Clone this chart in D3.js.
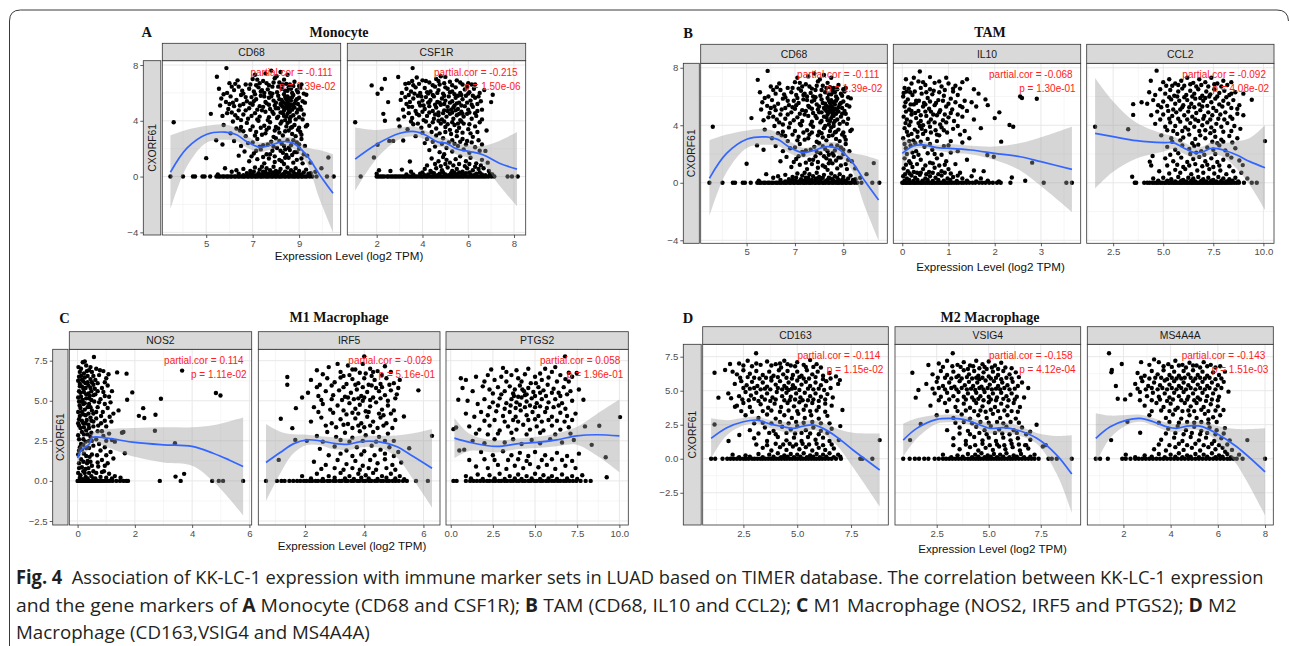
<!DOCTYPE html>
<html><head><meta charset="utf-8">
<script src="https://cdn.jsdelivr.net/npm/d3@7"></script>
<style>body{margin:0;background:#fff}svg{display:block}</style>
</head><body>
<svg id="fig" width="1290" height="646"></svg>
<script>
// ---------------- DATA ----------------
const cd68Pts = [
[5.87,7.78],[5.46,7.16],[7.1,7.3],[7.55,7.4],[8.03,7.19],[8.2,7.5],[7.8,7.6],[8.5,7.3],
[6.35,6.9],[6.7,6.6],[7.0,7.0],[7.3,6.7],[7.45,6.85],[7.7,6.55],[7.95,7.05],[8.15,6.75],[8.35,6.95],[8.6,6.6],[8.8,6.8],[9.0,6.5],[6.0,6.7],[7.2,6.95],[8.45,6.65],
[5.55,6.3],[5.9,6.0],[6.2,6.2],[6.4,6.45],[6.6,5.95],[6.85,6.3],[7.05,6.1],[7.25,6.4],[7.5,6.0],[7.65,6.25],[7.85,6.45],[8.05,6.05],[8.25,6.3],[8.4,6.15],[8.55,6.4],[8.7,6.0],[8.9,6.2],[9.05,6.35],[9.2,5.95],[9.31,5.87],[6.1,6.45],[7.4,6.2],[8.65,6.3],
[5.65,5.6],[5.85,5.35],[6.05,5.75],[6.3,5.5],[6.5,5.85],[6.75,5.4],[6.95,5.7],[7.15,5.55],[7.35,5.8],[7.55,5.35],[7.7,5.65],[7.9,5.45],[8.1,5.8],[8.25,5.5],[8.4,5.7],[8.5,5.35],[8.6,5.6],[8.75,5.85],[8.85,5.45],[9.0,5.65],[9.15,5.4],[6.15,5.3],[7.05,5.4],[7.8,5.75],[8.3,5.35],[8.45,5.55],
[5.6,5.1],[5.95,4.85],[6.2,5.05],[6.4,4.75],[6.6,5.2],[6.85,4.9],[7.0,5.15],[7.2,4.8],[7.45,5.0],[7.6,5.25],[7.75,4.85],[7.95,5.1],[8.1,4.9],[8.2,5.2],[8.35,4.75],[8.45,5.05],[8.55,4.85],[8.65,5.15],[8.8,4.95],[8.95,5.2],[9.1,4.8],[8.3,5.0],[8.5,4.95],[8.7,4.8],[8.4,5.25],[8.6,5.0],
[5.2,4.5],[5.7,4.35],[6.1,4.6],[6.35,4.2],[6.6,4.45],[6.8,4.15],[7.1,4.55],[7.3,4.3],[7.55,4.65],[7.7,4.25],[7.9,4.5],[8.05,4.2],[8.2,4.6],[8.35,4.35],[8.5,4.5],[8.6,4.15],[8.75,4.4],[8.9,4.6],[9.0,4.25],[9.2,4.45],[8.45,4.3],[8.55,4.65],
[3.6,3.9],[5.75,3.7],[6.15,3.95],[6.5,3.55],[6.75,3.85],[7.0,3.6],[7.25,4.0],[7.5,3.65],[7.75,3.9],[8.0,3.55],[8.2,3.8],[8.45,3.6],[8.6,3.95],[8.8,3.7],[9.0,3.5],[9.29,3.6],[9.35,3.7],
[6.05,3.1],[6.45,3.3],[6.7,2.9],[7.15,3.2],[7.4,3.0],[7.6,3.35],[7.9,2.85],[8.15,3.15],[8.3,2.95],[8.55,3.3],[8.7,3.05],[8.85,2.9],[9.05,3.2],
[5.43,2.6],[5.7,2.3],[6.2,2.55],[6.8,2.4],[7.2,2.7],[7.45,2.25],[7.8,2.5],[8.0,2.75],[8.25,2.35],[8.5,2.6],[8.65,2.25],[8.9,2.45],[9.1,2.7],
[6.65,1.8],[7.05,1.65],[7.35,1.95],[7.6,1.6],[7.85,1.85],[8.05,2.05],[8.3,1.7],[8.45,1.55],[8.6,1.9],[8.8,1.75],[9.0,2.0],[9.2,1.6],[8.4,1.95],
[5.0,1.32],[6.85,1.1],[7.2,1.25],[7.5,0.95],[7.7,1.3],[7.95,1.05],[8.15,1.2],[8.35,0.9],[8.55,1.35],[8.75,1.0],[8.9,1.2],[9.15,0.95],[9.49,1.0],[10.26,1.37],[8.25,1.1],
[5.81,0.6],[6.3,0.45],[6.6,0.55],[6.9,0.4],[7.1,0.65],[7.3,0.5],[7.45,0.35],[7.6,0.6],[7.75,0.45],[7.9,0.7],[8.0,0.4],[8.2,0.55],[8.4,0.35],[8.5,0.65],[8.65,0.45],[8.85,0.6],[9.0,0.4],[9.3,0.5],[9.96,0.6],[9.7,0.35],[7.4,0.7],[8.1,0.3],
[5.5,0.15],[6.4,0.2],[7.0,0.15],[7.25,0.25],[7.5,0.2],[7.65,0.15],[7.85,0.25],[8.05,0.2],[8.3,0.15],[8.55,0.25],[8.8,0.2],[9.1,0.15],[9.4,0.2],[7.15,0.1],[7.95,0.1]
];
const cd68More = [
[6.25,6.65],[6.55,6.15],[6.9,6.6],[7.15,6.55],[7.35,6.1],[7.6,6.7],[7.75,6.0],[7.9,6.75],[8.1,6.45],[8.3,6.6],[8.5,6.15],[8.75,6.5],[8.95,6.05],[9.1,6.6],
[5.75,5.9],[6.0,5.2],[6.45,5.1],[6.7,5.7],[6.9,5.25],[7.1,5.9],[7.3,5.05],[7.5,5.75],[7.7,5.15],[7.85,5.95],[8.0,5.3],[8.15,5.55],[8.35,5.9],[8.5,5.75],[8.55,5.2],[8.65,5.45],[8.7,5.7],[8.8,5.25],[8.9,5.55],[9.05,5.0],[9.25,5.3],[8.25,5.1],[8.4,4.9],[8.6,4.65],[8.75,5.05],
[5.9,4.55],[6.25,4.4],[6.5,4.05],[6.7,4.75],[6.95,4.35],[7.2,4.1],[7.4,4.75],[7.65,4.05],[7.85,4.65],[8.0,4.9],[8.1,4.3],[8.3,4.55],[8.4,4.05],[8.65,4.3],[8.85,4.1],[8.95,4.8],[9.15,4.1],[8.25,3.95],[8.5,3.85],[8.7,3.55],
[6.3,3.45],[6.6,3.25],[6.9,3.35],[7.1,2.95],[7.35,3.5],[7.55,3.1],[7.7,3.5],[7.95,3.3],[8.1,3.45],[8.4,3.25],[8.65,3.5],[8.95,3.35],[9.1,3.0],
[6.5,2.2],[7.0,2.45],[7.3,2.15],[7.65,2.3],[7.9,2.15],[8.15,2.55],[8.35,2.2],[8.55,2.05],[8.75,2.6],[9.0,2.3],[9.25,2.2],
[6.4,1.5],[6.95,1.45],[7.15,1.85],[7.45,1.4],[7.75,1.6],[7.95,1.45],[8.2,1.85],[8.4,1.35],[8.7,1.55],[8.9,1.75],[9.1,1.3],[9.35,1.5],
[6.1,0.35],[6.75,0.25],[7.05,0.35],[7.35,0.15],[7.55,0.35],[7.7,0.2],[7.9,0.3],[8.15,0.35],[8.35,0.2],[8.45,0.3],[8.6,0.15],[8.75,0.35],[8.95,0.2],[9.2,0.3],[9.5,0.25],[6.6,0.1],[6.9,0.15],[7.45,0.1],[8.25,0.1],[8.7,0.05]
];
const cd68Zero = [3.46,4.0,4.43,4.52,4.84,4.93,5.17,5.44,5.53,5.6,5.71,5.77,5.88,5.94,6.04,6.1,6.21,6.27,6.37,6.43,6.53,6.6,6.67,6.77,6.83,6.93,6.99,7.09,7.15,7.23,7.33,7.39,7.47,7.57,7.63,7.71,7.81,7.87,7.97,8.03,8.13,8.19,8.27,8.37,8.43,8.53,8.59,8.69,8.77,8.83,8.93,8.99,9.09,9.15,9.25,9.33,9.46,9.57,9.75,10.2,10.49];
const cd68Smooth = [[3.46,0.31,2.64],[4.17,2.04,1.31],[5.03,3.04,0.6],[5.81,3.19,0.55],[6.31,3.0,0.45],[6.74,2.51,0.42],[7.31,2.1,0.35],[7.74,2.23,0.3],[8.31,2.51,0.3],[8.74,2.4,0.38],[9.31,1.56,0.55],[9.89,0.12,1.78],[10.46,-1.2,2.8]];

const csf1rPts = [
[1.06,3.9],[1.78,6.54],[2.04,5.94],[2.22,6.3],[2.36,7.0],[1.88,1.37],[2.04,2.28],[2.29,4.5],[2.36,4.0],[2.5,5.34],[2.55,2.56],[2.72,2.56],[2.94,7.14],[3.16,2.59],[3.57,7.78],[3.45,1.08],[7.07,5.87],[7.0,5.34],[6.75,1.84],[6.67,0.6],
[3.4,6.7],[3.75,7.1],[4.0,6.9],[4.3,6.75],[4.6,7.0],[4.8,7.2],[5.0,7.15],[5.2,6.8],[5.5,6.9],[5.75,6.6],[6.0,6.7],[6.3,6.6],[3.6,6.55],[4.75,6.6],
[3.1,6.0],[3.3,6.3],[3.5,6.1],[3.7,6.4],[3.9,6.0],[4.1,6.35],[4.35,6.1],[4.55,6.45],[4.7,6.2],[4.9,5.95],[5.1,6.3],[5.3,6.1],[5.45,6.4],[5.65,6.0],[5.85,6.25],[6.05,6.05],[6.25,6.3],[6.5,6.0],[6.7,6.2],[4.2,6.05],[5.0,6.4],
[3.05,5.5],[3.25,5.7],[3.45,5.35],[3.6,5.6],[3.8,5.8],[4.0,5.45],[4.15,5.7],[4.35,5.5],[4.5,5.75],[4.65,5.35],[4.85,5.6],[5.0,5.45],[5.15,5.75],[5.3,5.4],[5.45,5.65],[5.6,5.3],[5.75,5.55],[5.9,5.8],[6.1,5.45],[6.3,5.65],[6.55,5.4],[4.25,5.3],[5.55,5.8],
[3.15,4.8],[3.4,5.0],[3.7,4.7],[3.9,5.1],[4.1,4.85],[4.3,5.05],[4.45,4.7],[4.6,4.95],[4.8,5.15],[4.95,4.75],[5.1,5.0],[5.25,4.8],[5.4,5.1],[5.55,4.85],[5.7,4.65],[5.85,5.05],[6.0,4.8],[6.2,5.0],[6.4,4.7],[4.7,4.6],
[2.95,4.1],[3.2,4.3],[3.55,4.2],[3.85,4.4],[4.05,4.05],[4.2,4.35],[4.5,4.15],[4.7,4.4],[4.85,4.1],[5.05,4.3],[5.2,4.5],[5.35,4.15],[5.5,4.4],[5.65,4.05],[5.8,4.3],[5.95,4.5],[6.15,4.15],[6.35,4.35],[6.6,4.1],[5.6,4.5],
[3.0,3.6],[3.35,3.4],[3.6,3.75],[3.95,3.5],[4.3,3.65],[4.6,3.45],[4.8,3.8],[5.0,3.55],[5.2,3.35],[5.4,3.7],[5.6,3.5],[5.8,3.8],[6.0,3.4],[6.3,3.6],[6.8,3.3],[5.1,3.75],
[3.7,2.9],[4.2,2.7],[4.6,2.95],[4.9,2.75],[5.3,2.6],[5.5,2.9],[5.75,2.7],[5.95,2.55],[6.2,2.85],[6.45,2.6],
[4.3,1.9],[4.55,2.15],[4.75,1.75],[5.05,2.05],[5.3,1.8],[5.55,2.2],[5.8,1.95],[6.05,1.7],[6.3,2.1],[6.5,1.85],[4.95,1.6],
[4.4,1.3],[4.7,1.1],[4.9,1.4],[5.2,1.0],[5.45,1.25],[5.65,1.45],[5.9,1.1],[6.1,1.35],[6.35,0.95],[6.6,1.2],[6.85,1.0],[5.0,0.9],
[2.1,0.45],[2.6,0.4],[3.1,0.5],[3.5,0.35],[4.1,0.55],[4.35,0.4],[4.6,0.6],[4.85,0.45],[5.1,0.65],[5.3,0.4],[5.5,0.55],[5.75,0.35],[5.95,0.6],[6.2,0.45],[6.45,0.55],[6.9,0.4],[4.0,0.3],[5.4,0.3],
[2.0,0.2],[3.3,0.15],[3.9,0.2],[4.25,0.15],[4.5,0.25],[4.75,0.2],[5.0,0.15],[5.25,0.25],[5.5,0.15],[5.7,0.2],[5.9,0.25],[6.1,0.15],[6.35,0.2],[6.6,0.15],[6.95,0.2]
];
const csf1rMore = [
[3.25,6.65],[3.55,6.85],[3.85,6.65],[4.15,6.85],[4.45,6.55],[4.7,6.85],[4.95,6.7],[5.3,6.55],[5.65,6.75],[5.95,6.45],[6.15,6.6],
[3.4,5.85],[3.65,5.95],[3.95,5.75],[4.25,5.95],[4.45,5.85],[4.65,6.0],[4.95,5.8],[5.2,6.05],[5.4,5.9],[5.7,5.85],[6.0,5.95],[6.2,5.8],[6.45,5.75],
[3.3,5.2],[3.55,5.0],[3.85,5.3],[4.05,5.1],[4.3,5.35],[4.55,5.15],[4.75,5.3],[4.95,5.2],[5.2,5.3],[5.35,4.95],[5.5,5.25],[5.7,5.1],[5.95,5.3],[6.15,5.15],[6.4,5.2],[6.6,4.8],
[3.4,4.55],[3.75,4.5],[4.0,4.65],[4.3,4.6],[4.55,4.45],[4.9,4.55],[5.1,4.7],[5.3,4.6],[5.45,4.75],[5.75,4.5],[6.05,4.6],[6.3,4.55],
[3.5,3.95],[3.8,3.8],[4.15,3.95],[4.45,3.9],[4.7,4.0],[4.95,3.95],[5.3,3.9],[5.55,3.8],[5.7,3.95],[6.05,3.75],[6.5,3.9],
[4.0,3.15],[4.4,3.2],[4.75,3.1],[5.0,3.2],[5.25,3.05],[5.5,3.25],[5.75,3.15],[6.1,3.1],[6.4,3.2],
[4.1,2.4],[4.45,2.5],[4.85,2.35],[5.15,2.45],[5.4,2.35],[5.65,2.5],[5.9,2.3],[6.15,2.45],[6.6,2.3],
[4.2,0.8],[4.55,0.9],[4.8,0.75],[5.05,1.2],[5.35,0.8],[5.6,0.9],[5.85,0.75],[6.05,0.9],[6.3,0.7],[6.55,0.8],
[3.6,0.15],[4.1,0.1],[4.4,0.3],[4.65,0.1],[4.9,0.3],[5.15,0.1],[5.35,0.15],[5.6,0.3],[5.8,0.1],[6.05,0.3],[6.25,0.1],[6.5,0.3],[6.75,0.1],[7.05,0.15]
];
const csf1rZero = [1.3,2.0,2.08,2.17,2.25,2.33,2.45,2.52,2.62,2.7,2.79,2.86,2.95,3.03,3.12,3.2,3.27,3.36,3.44,3.52,3.6,3.68,3.76,3.85,3.93,4.0,4.08,4.16,4.23,4.32,4.4,4.47,4.55,4.63,4.71,4.8,4.87,4.95,5.03,5.11,5.19,5.27,5.34,5.42,5.5,5.58,5.66,5.74,5.81,5.9,5.98,6.06,6.14,6.22,6.3,6.38,6.46,6.54,6.63,6.71,6.8,6.9,7.02,7.14,7.72,7.91,8.16];
const csf1rSmooth = [[1.06,1.25,2.27],[2.0,2.32,1.02],[3.01,3.11,0.42],[3.67,3.23,0.35],[4.17,2.95,0.33],[4.68,2.47,0.33],[5.04,2.4,0.35],[5.48,1.99,0.4],[6.06,1.8,0.45],[6.64,1.56,0.65],[7.36,0.96,1.6],[8.13,0.53,2.66]];

const il10Pts = [
[0.38,7.74],[0.35,7.05],[0.09,6.35],[0.05,6.6],[0.2,6.9],[0.5,6.8],[0.7,6.95],[0.85,6.7],[1.0,6.9],[1.15,6.75],[1.3,7.0],[1.4,7.2],[0.6,6.5],
[0.02,6.0],[0.12,5.8],[0.22,6.1],[0.3,5.7],[0.42,6.2],[0.55,5.9],[0.65,6.15],[0.78,5.75],[0.9,6.05],[1.05,5.85],[1.2,6.1],[1.35,5.7],[1.5,5.6],[0.17,6.3],[0.47,5.55],
[0.05,5.3],[0.15,5.1],[0.25,5.45],[0.35,5.0],[0.45,5.3],[0.58,5.15],[0.7,5.4],[0.82,5.05],[0.95,5.3],[1.08,5.1],[1.25,5.35],[1.6,5.3],[1.85,5.4],[0.3,5.55],[0.62,4.95],[1.4,5.0],
[0.03,4.6],[0.1,4.4],[0.2,4.75],[0.3,4.5],[0.4,4.3],[0.52,4.65],[0.62,4.4],[0.75,4.7],[0.88,4.35],[1.0,4.55],[1.12,4.3],[1.3,4.6],[1.55,4.4],[2.0,4.5],[2.1,4.9],[0.7,4.2],
[0.05,3.8],[0.15,4.0],[0.27,3.7],[0.38,3.95],[0.5,3.6],[0.6,3.9],[0.72,3.65],[0.85,3.85],[0.97,3.5],[1.1,3.75],[1.35,3.6],[1.7,3.8],[2.32,4.02],[2.4,3.9],[0.45,3.4],
[0.02,3.1],[0.13,3.3],[0.24,2.95],[0.33,3.2],[0.55,3.05],[0.8,3.3],[1.05,2.9],[1.45,3.1],[2.14,2.86],
[0.08,2.4],[0.18,2.6],[0.3,2.2],[0.48,2.5],[0.65,2.3],[0.9,2.55],[1.2,2.2],[1.84,1.93],[1.98,1.81],
[0.05,1.7],[0.15,1.5],[0.25,1.8],[0.4,1.6],[0.6,1.4],[0.75,1.7],[0.95,1.5],[1.15,1.3],[1.4,1.6],[2.81,1.4],
[0.03,1.0],[0.12,0.8],[0.22,1.1],[0.32,0.7],[0.45,0.95],[0.58,0.75],[0.7,1.05],[0.85,0.8],[1.0,0.95],[1.25,0.7],[1.55,0.85],[1.76,0.81],
[0.02,0.45],[0.1,0.3],[0.2,0.5],[0.28,0.35],[0.38,0.55],[0.5,0.3],[0.6,0.45],[0.72,0.35],[0.85,0.5],[0.98,0.3],[1.1,0.4],[1.3,0.3],[1.5,0.45],[1.7,0.3],[2.37,0.37],[2.66,0.14],[2.09,0.1],
[2.55,6.0],[2.59,5.9],[2.91,5.84],[1.65,6.2],[1.8,5.8],[1.55,6.5]
];
const il10More = [
[0.08,7.2],[0.25,7.3],[0.45,7.0],[0.6,7.35],[0.8,7.05],[0.95,7.3],[1.1,6.55],
[0.03,6.25],[0.14,6.55],[0.27,6.35],[0.4,6.6],[0.52,6.3],[0.68,6.4],[0.8,6.3],[0.92,6.45],[1.1,6.35],[1.25,6.55],
[0.07,5.6],[0.18,5.45],[0.36,5.7],[0.5,5.45],[0.6,5.65],[0.73,5.55],[0.88,5.7],[1.0,5.5],[1.15,5.6],[1.3,5.25],
[0.08,4.95],[0.2,5.0],[0.28,4.85],[0.4,4.7],[0.5,4.95],[0.67,4.75],[0.8,4.9],[0.92,4.75],[1.05,4.85],[1.2,4.75],
[0.07,4.15],[0.18,4.25],[0.35,4.15],[0.45,4.0],[0.57,4.2],[0.82,4.05],[0.95,4.2],[1.2,3.95],
[0.1,3.55],[0.2,3.4],[0.33,3.55],[0.42,3.75],[0.62,3.5],[0.75,3.35],[0.9,3.65],[1.25,3.35],
[0.05,2.7],[0.15,2.9],[0.28,2.75],[0.4,2.85],[0.6,2.7],[0.75,2.9],[1.0,2.6],[1.3,2.8],
[0.1,2.0],[0.22,2.1],[0.35,1.95],[0.55,2.05],[0.7,2.0],[0.85,1.95],[1.05,2.1],
[0.08,1.25],[0.18,1.35],[0.32,1.3],[0.5,1.2],[0.66,1.35],[0.8,1.2],[0.92,1.25],
[0.06,0.6],[0.16,0.65],[0.25,0.75],[0.4,0.7],[0.52,0.6],[0.66,0.7],[0.78,0.6],[0.92,0.7],[1.05,0.65],[1.2,0.5],
[0.05,0.15],[0.15,0.2],[0.24,0.12],[0.33,0.2],[0.44,0.15],[0.55,0.2],[0.66,0.12],[0.78,0.2],[0.9,0.15],[1.04,0.2],[1.18,0.12],[1.4,0.15],[1.6,0.1],[1.85,0.15]
];
const il10Zero = [0.0,0.03,0.07,0.1,0.14,0.17,0.21,0.25,0.28,0.32,0.36,0.4,0.43,0.47,0.51,0.55,0.59,0.63,0.66,0.7,0.74,0.78,0.82,0.86,0.9,0.94,0.98,1.02,1.07,1.12,1.17,1.22,1.28,1.33,1.39,1.45,1.52,1.58,1.66,1.73,1.8,1.88,1.96,2.05,2.13,2.34,3.06,3.55,3.67];
const il10Smooth = [[0,2.05,1.04],[0.24,2.56,0.3],[0.46,2.63,0.22],[0.75,2.44,0.2],[1.0,2.4,0.3],[1.48,2.28,0.3],[2.0,2.05,0.47],[2.55,1.81,0.95],[3.0,1.47,1.7],[3.67,0.93,2.97]];

const ccl2Pts = [
[1.6,3.9],[3.25,3.72],[3.45,0.42],[3.5,5.47],[3.5,4.72],[3.92,5.6],[4.33,1.47],[4.47,1.86],[4.4,1.2],[4.67,7.8],[4.38,7.1],[10.08,2.9],[9.42,5.77],[8.97,1.23],
[5.0,7.0],[5.3,7.2],[5.6,6.9],[5.9,7.1],[6.2,7.3],[6.5,6.95],[6.8,7.2],[7.1,7.0],[7.4,7.3],[7.7,6.9],[8.0,7.1],[8.4,7.0],[5.45,6.75],[6.65,6.7],
[4.3,6.3],[4.6,6.1],[4.85,6.5],[5.1,6.2],[5.35,6.45],[5.55,6.05],[5.75,6.35],[5.95,6.55],[6.15,6.1],[6.35,6.4],[6.55,6.2],[6.75,6.5],[6.95,6.05],[7.15,6.35],[7.35,6.15],[7.55,6.5],[7.8,6.25],[8.05,6.4],[8.3,6.1],[8.6,6.3],[9.0,6.2],
[4.2,5.5],[4.5,5.75],[4.75,5.4],[5.0,5.65],[5.2,5.35],[5.4,5.8],[5.6,5.5],[5.8,5.7],[6.0,5.4],[6.2,5.75],[6.4,5.5],[6.6,5.85],[6.8,5.45],[7.0,5.7],[7.2,5.35],[7.4,5.6],[7.6,5.85],[7.8,5.45],[8.0,5.7],[8.25,5.5],[8.5,5.75],[8.8,5.4],[6.3,5.25],[7.1,5.9],
[4.4,4.7],[4.7,4.95],[5.0,4.75],[5.25,5.0],[5.45,4.65],[5.65,4.9],[5.85,5.1],[6.05,4.7],[6.25,4.95],[6.45,4.6],[6.65,4.85],[6.85,5.05],[7.05,4.65],[7.25,4.9],[7.45,4.7],[7.65,5.0],[7.85,4.75],[8.1,4.9],[8.35,4.6],[8.7,4.8],[9.0,4.7],
[4.6,4.1],[5.1,3.9],[5.35,4.2],[5.6,3.95],[5.85,4.25],[6.1,3.85],[6.35,4.15],[6.55,3.9],[6.75,4.3],[6.95,4.0],[7.2,4.2],[7.4,3.85],[7.65,4.1],[7.9,3.9],[8.2,4.15],[8.55,3.95],[8.85,3.75],
[4.9,3.3],[5.4,3.1],[5.7,3.4],[6.0,3.15],[6.3,3.35],[6.6,3.05],[6.85,3.3],[7.1,3.1],[7.35,3.45],[7.6,3.2],[7.9,3.0],[8.3,3.25],[8.7,3.1],
[5.2,2.5],[5.6,2.3],[5.95,2.6],[6.3,2.35],[6.55,2.55],[6.9,2.2],[7.2,2.45],[7.5,2.3],[7.8,2.6],[8.1,2.25],[8.6,2.4],
[5.1,1.7],[5.5,1.5],[5.9,1.75],[6.2,1.45],[6.5,1.65],[6.8,1.8],[7.1,1.5],[7.4,1.7],[7.7,1.45],[8.0,1.6],[8.4,1.75],[8.8,1.55],
[4.8,0.8],[5.3,0.65],[5.6,0.9],[5.85,0.7],[6.1,0.95],[6.4,0.6],[6.7,0.85],[7.0,0.7],[7.3,0.95],[7.55,0.65],[7.85,0.85],[8.15,0.6],[8.5,0.8],[8.9,0.7],
[4.5,0.3],[5.0,0.35],[5.4,0.25],[5.75,0.4],[6.0,0.2],[6.25,0.35],[6.5,0.3],[6.75,0.4],[7.0,0.25],[7.25,0.35],[7.5,0.2],[7.75,0.4],[8.0,0.3],[8.3,0.25],[8.6,0.35],[9.2,0.3]
];
const ccl2More = [
[5.15,6.75],[5.75,6.8],[6.05,6.75],[6.35,6.85],[6.9,6.8],[7.25,6.7],[7.55,6.85],[7.9,6.7],[8.2,6.8],
[5.3,5.95],[5.7,6.0],[6.05,5.95],[6.45,6.0],[6.85,5.9],[7.3,6.0],[7.7,6.0],[8.15,5.95],[8.4,6.2],
[4.9,5.25],[5.5,5.1],[5.95,5.25],[6.55,5.25],[6.95,5.3],[7.5,5.2],[7.95,5.3],[8.4,5.2],[8.7,5.15],
[4.85,4.4],[5.3,4.45],[5.75,4.45],[6.2,4.4],[6.6,4.4],[7.0,4.45],[7.35,4.4],[7.75,4.45],[8.05,4.4],[8.45,4.45],
[5.2,3.65],[5.5,3.6],[5.95,3.6],[6.25,3.7],[6.8,3.6],[7.1,3.65],[7.55,3.6],[8.0,3.55],[8.4,3.6],
[5.45,2.85],[5.85,2.95],[6.45,2.75],[6.75,2.65],[7.45,2.85],[7.7,2.75],[8.0,2.85],[8.45,2.8],
[5.35,1.95],[5.75,2.05],[6.35,2.0],[6.65,2.1],[7.05,1.95],[7.6,2.0],[8.2,1.95],
[5.2,1.2],[5.7,1.25],[6.0,1.1],[6.3,1.2],[6.6,1.3],[6.95,1.15],[7.2,1.25],[7.5,1.1],[7.8,1.2],[8.3,1.15],
[4.75,0.15],[5.2,0.15],[5.6,0.1],[5.9,0.15],[6.15,0.1],[6.4,0.15],[6.6,0.1],[6.9,0.15],[7.15,0.1],[7.4,0.15],[7.65,0.1],[7.9,0.15],[8.15,0.1],[8.45,0.15],[8.75,0.1]
];
const ccl2Zero = [3.58,3.65,4.05,4.2,4.32,4.45,4.55,4.66,4.75,4.86,4.95,5.06,5.14,5.25,5.33,5.43,5.52,5.61,5.7,5.79,5.88,5.96,6.05,6.14,6.22,6.31,6.4,6.48,6.57,6.66,6.74,6.83,6.92,7.0,7.09,7.18,7.26,7.35,7.44,7.52,7.61,7.7,7.78,7.87,7.96,8.05,8.14,8.23,8.33,8.43,8.54,8.66,8.78,9.03,9.42,9.67];
const ccl2Smooth = [[1.6,3.44,3.84],[2.5,3.21,2.45],[3.67,2.93,1.25],[5.03,2.79,0.62],[5.5,2.79,0.45],[6.0,2.44,0.4],[6.58,2.09,0.38],[7.0,2.16,0.38],[7.42,2.4,0.42],[8.0,2.28,0.48],[8.67,1.93,0.95],[9.33,1.47,1.65],[10.08,1.05,2.95]];

const nos2Pts = [
[0.57,7.73],[1.71,6.69],[1.38,6.77],[1.91,5.52],[1.73,5.06],[1.43,4.4],[1.55,3.0],[1.6,3.05],[1.65,1.73],[2.14,4.06],[2.29,4.54],[2.33,3.92],[2.72,4.13],[2.7,3.13],[2.91,5.13],[3.65,6.88],[3.4,2.35],[3.42,0.27],[3.72,0.44],[4.83,5.48],[4.99,5.33],[1.3,2.45],[1.2,2.55],
[0.18,7.4],[0.12,7.0],[0.3,7.2],[0.4,6.9],[0.22,6.7],[0.05,6.5],[0.35,6.55],[0.5,6.8],[0.15,6.3],[0.28,6.1],[0.45,6.35],[0.08,5.9],[0.2,5.75],[0.38,5.95],[0.55,6.0],[0.1,5.5],[0.3,5.4],[0.48,5.6],[0.02,5.2],[0.18,5.05],[0.4,5.15],[0.25,4.85],[0.58,4.95],[0.07,4.7],[0.35,4.6],[0.5,4.4],[0.15,4.3],[0.28,4.1],[0.45,3.95],[0.05,3.85],[0.2,3.6],[0.38,3.5],[0.55,3.7],[0.1,3.3],[0.3,3.15],[0.48,3.0],[0.02,2.85],[0.2,2.6],[0.4,2.5],[0.12,2.3],[0.3,2.05],[0.55,2.2],[0.05,1.9],[0.22,1.7],[0.42,1.5],[0.12,1.35],[0.33,1.1],[0.5,0.95],[0.05,0.8],[0.2,0.6],[0.4,0.5],[0.1,0.35],[0.28,0.25],[0.48,0.3],
[0.08,6.05],[0.25,6.45],[0.42,5.3],[0.12,4.95],[0.32,3.8],[0.05,3.45],[0.22,2.9],[0.45,2.75],[0.15,1.95],[0.35,1.25],[0.02,0.5],[0.28,0.75],
[0.65,7.0],[0.75,6.6],[0.9,6.85],[1.0,6.4],[1.08,6.65],[0.7,6.1],[0.85,5.8],[1.05,5.95],[1.2,5.6],[0.62,5.4],[0.8,5.1],[0.95,5.3],[1.15,4.9],[0.7,4.6],[0.88,4.3],[1.05,4.55],[1.25,4.2],[0.65,3.9],[0.82,3.6],[1.0,3.4],[1.18,3.7],[0.7,3.1],[0.9,2.8],[1.1,2.95],[0.75,2.3],[0.95,2.1],[1.15,1.8],[0.68,1.6],[0.85,1.3],[1.05,1.1],[1.25,1.4],[0.72,0.9],[0.92,0.6],[1.1,0.45],[0.8,0.25],[1.3,0.3],[1.5,0.2]
];
const nos2More = [
[0.03,7.1],[0.25,7.45],[0.45,7.1],[0.08,6.8],[0.32,6.85],[0.55,6.55],[0.12,6.55],[0.2,6.2],[0.35,6.15],[0.5,6.15],[0.02,6.25],[0.15,5.9],[0.28,5.8],[0.45,5.8],[0.6,5.75],[0.05,5.6],[0.22,5.55],[0.38,5.45],[0.55,5.35],[0.12,5.25],[0.3,5.15],[0.48,5.05],[0.05,4.95],[0.2,4.8],[0.4,4.8],[0.1,4.55],[0.25,4.45],[0.45,4.6],[0.02,4.3],[0.2,4.15],[0.38,4.2],[0.55,4.2],[0.08,4.05],[0.15,3.75],[0.28,3.6],[0.48,3.75],[0.02,3.6],[0.22,3.35],[0.4,3.3],[0.55,3.4],[0.15,3.05],[0.35,2.9],[0.05,2.6],[0.28,2.45],[0.5,2.5],[0.08,2.1],[0.2,2.25],[0.4,2.05],[0.02,1.65],[0.3,1.55],[0.5,1.65],[0.2,1.2],[0.45,1.2],[0.05,1.1],[0.15,0.85],[0.38,0.8],[0.55,0.6],[0.25,0.5],[0.08,0.2],[0.35,0.15],[0.55,0.15],[0.18,0.1],
[0.62,6.3],[0.78,6.9],[0.95,6.15],[0.7,5.6],[0.9,5.55],[1.1,5.25],[0.75,4.9],[0.95,4.8],[0.65,4.3],[0.82,4.05],[1.12,4.0],[0.72,3.45],[0.95,3.75],[0.85,3.1],[1.0,2.5],[0.65,2.6],[0.8,1.9],[1.0,1.6],[0.7,1.15],[0.95,0.95],[0.65,0.5],[0.85,0.55],[1.0,0.2],[0.62,0.15],[1.2,0.15]
];
const nos2Zero = [0,0.02,0.04,0.06,0.09,0.12,0.15,0.18,0.21,0.24,0.27,0.3,0.33,0.36,0.4,0.44,0.48,0.52,0.57,0.62,0.68,0.74,0.8,0.87,0.95,1.03,1.12,1.22,1.35,1.48,1.6,1.7,1.76,2.87,3.6,4.7,4.93,5.08,5.78];
const nos2Smooth = [[0,1.42,0.55],[0.14,1.94,0.35],[0.31,2.15,0.35],[0.41,2.31,0.3],[0.52,2.71,0.3],[1.01,2.67,0.55],[2.0,2.4,0.9],[3.0,2.25,1.1],[4.0,2.15,1.2],[4.73,1.73,1.75],[5.29,1.31,2.4],[5.78,0.9,3.05]];

const irf5Pts = [
[1.11,1.31],[1.4,6.48],[1.4,6.0],[1.18,3.88],[1.57,3.29],[1.69,4.54],[1.67,2.56],[1.9,5.2],[2.06,2.5],[5.83,5.65],[6.29,2.81],[5.52,2.04],[5.34,4.02],[4.0,7.77],
[2.4,6.9],[2.8,7.1],[3.2,6.8],[3.45,7.2],[3.7,6.95],[3.95,7.3],[4.2,7.0],[4.45,6.85],[4.7,7.15],[3.1,7.3],[4.05,6.7],
[2.2,6.3],[2.5,6.0],[2.75,6.4],[3.0,6.15],[3.2,6.45],[3.4,6.05],[3.6,6.35],[3.8,6.1],[4.0,6.4],[4.15,6.0],[4.35,6.3],[4.55,6.05],[4.75,6.4],[5.0,6.1],[5.2,6.3],[3.5,6.6],[4.25,6.55],
[2.1,5.5],[2.45,5.3],[2.7,5.6],[2.95,5.35],[3.15,5.65],[3.35,5.25],[3.55,5.5],[3.75,5.7],[3.9,5.3],[4.1,5.55],[4.3,5.2],[4.5,5.6],[4.7,5.35],[4.9,5.65],[5.1,5.4],[3.65,5.1],[4.4,5.8],
[2.3,4.6],[2.6,4.8],[2.85,4.45],[3.1,4.7],[3.3,4.4],[3.5,4.85],[3.7,4.5],[3.85,4.75],[4.05,4.35],[4.2,4.65],[4.4,4.9],[4.6,4.45],[4.8,4.7],[5.0,4.4],[3.95,5.0],
[2.2,3.7],[2.55,3.95],[2.9,3.6],[3.2,3.85],[3.45,3.55],[3.7,3.9],[3.9,3.6],[4.1,4.0],[4.3,3.7],[4.55,3.95],[4.75,3.6],[5.05,3.8],
[2.4,2.8],[2.75,3.05],[3.05,2.75],[3.35,3.0],[3.6,2.7],[3.85,3.1],[4.05,2.85],[4.3,3.05],[4.5,2.75],[4.8,2.95],
[2.5,2.0],[3.0,2.15],[3.4,1.9],[3.75,2.1],[4.0,1.85],[4.25,2.2],[4.55,1.95],[4.85,2.1],[5.15,1.8],
[2.3,1.2],[2.7,1.0],[3.1,1.3],[3.4,1.05],[3.7,1.25],[3.95,0.95],[4.2,1.3],[4.45,1.1],[4.7,1.35],[4.95,1.0],[5.25,1.15],
[1.9,0.3],[2.4,0.45],[2.8,0.3],[3.2,0.5],[3.5,0.3],[3.8,0.45],[4.05,0.35],[4.3,0.5],[4.6,0.3],[4.9,0.45],[5.2,0.3]
];
const irf5More = [
[2.6,6.65],[3.3,6.55],[3.6,6.95],[3.85,6.75],[4.3,6.8],[4.6,6.6],[4.9,6.8],
[2.4,5.85],[2.9,5.95],[3.3,5.85],[3.7,6.0],[3.95,5.85],[4.25,5.95],[4.6,5.85],[4.85,6.0],[5.15,5.8],
[2.55,5.05],[2.9,5.1],[3.25,5.05],[3.45,5.2],[3.8,5.15],[4.0,5.2],[4.2,5.05],[4.55,5.15],[4.8,5.0],[5.05,5.15],
[2.45,4.3],[2.95,4.25],[3.4,4.15],[3.6,4.25],[3.8,4.2],[4.15,4.3],[4.5,4.2],[4.65,4.1],[4.9,4.2],
[2.7,3.45],[3.05,3.35],[3.3,3.5],[3.6,3.3],[3.8,3.45],[4.0,3.35],[4.2,3.45],[4.45,3.3],[4.65,3.45],[4.95,3.3],
[2.6,2.45],[3.2,2.55],[3.5,2.45],[3.95,2.5],[4.4,2.45],[4.7,2.5],[5.0,2.5],
[2.8,1.6],[3.2,1.7],[3.6,1.55],[3.9,1.65],[4.35,1.6],[4.7,1.7],[5.0,1.55],
[2.55,0.75],[3.0,0.8],[3.3,0.7],[3.6,0.8],[3.85,0.7],[4.15,0.8],[4.4,0.7],[4.75,0.8],[5.05,0.7],
[2.2,0.15],[2.6,0.12],[3.0,0.2],[3.35,0.15],[3.65,0.12],[3.9,0.2],[4.15,0.15],[4.45,0.12],[4.75,0.2],[5.05,0.15],[5.35,0.1]
];
const irf5Zero = [0.68,1.05,1.2,1.31,1.47,1.6,1.73,1.84,1.96,2.05,2.16,2.24,2.36,2.44,2.56,2.64,2.76,2.84,2.96,3.04,3.16,3.24,3.36,3.44,3.56,3.64,3.76,3.84,3.96,4.04,4.16,4.24,4.36,4.44,4.56,4.64,4.76,4.84,4.96,5.06,5.17,5.31,5.44,5.75,6.15];
const irf5Smooth = [[0.68,1.15,2.4],[1.16,1.77,1.3],[1.6,2.31,0.6],[2.06,2.56,0.32],[2.51,2.5,0.28],[2.96,2.35,0.38],[3.49,2.29,0.36],[3.83,2.44,0.37],[4.51,2.44,0.37],[5.09,2.15,0.68],[5.66,1.52,1.45],[6.29,0.79,2.45]];

const ptgs2Pts = [
[0.16,3.23],[0.32,3.33],[0.45,5.06],[0.51,1.9],[0.8,1.95],[10.04,3.98],[9.25,0.23],[9.19,1.48],[8.36,2.25],[8.81,3.44],[7.96,3.4],[7.87,5.06],[7.47,6.73],[6.78,7.77],[5.75,6.0],
[0.6,6.4],[0.9,6.3],[1.5,6.5],[2.2,6.6],[2.6,6.3],[3.0,6.5],[3.6,6.6],[4.0,6.4],[4.4,6.65],[5.0,6.5],[5.3,6.7],[6.0,6.8],[6.5,6.6],[7.0,6.75],[7.2,6.5],[6.2,7.1],[3.3,6.8],
[0.7,5.8],[1.3,5.6],[1.9,5.9],[2.3,5.7],[2.8,5.85],[3.2,5.6],[3.5,5.9],[3.8,5.7],[4.1,5.95],[4.35,5.6],[4.6,5.8],[4.9,5.55],[5.2,5.85],[5.5,5.65],[6.1,5.75],[6.4,5.5],[6.7,5.85],[7.1,5.6],[7.6,5.7],[4.75,6.1],
[1.0,5.0],[1.6,4.8],[2.0,5.1],[2.5,4.9],[2.9,5.15],[3.3,4.85],[3.6,5.1],[3.9,4.9],[4.2,5.2],[4.5,4.95],[4.8,5.15],[5.1,4.85],[5.4,5.1],[5.8,4.9],[6.2,5.1],[6.6,4.85],[7.2,5.0],[3.75,5.3],[4.4,5.35],
[0.9,4.2],[1.4,4.0],[1.8,4.3],[2.2,4.1],[2.7,4.35],[3.1,4.05],[3.5,4.3],[3.85,4.0],[4.15,4.4],[4.5,4.1],[4.85,4.3],[5.2,4.05],[5.6,4.3],[6.0,4.0],[6.5,4.25],[6.9,4.05],[7.4,4.2],
[1.1,3.4],[1.7,3.2],[2.3,3.45],[2.9,3.15],[3.4,3.4],[3.9,3.2],[4.3,3.5],[4.7,3.2],[5.1,3.4],[5.5,3.15],[6.0,3.45],[6.5,3.2],[7.0,3.35],
[1.3,2.5],[2.0,2.35],[2.6,2.6],[3.2,2.4],[3.7,2.6],[4.2,2.3],[4.8,2.55],[5.3,2.35],[5.9,2.6],[6.6,2.4],[7.3,2.55],
[1.8,1.8],[2.5,1.6],[3.1,1.85],[3.6,1.6],[4.1,1.75],[4.6,1.55],[5.0,1.8],[5.6,1.6],[6.3,1.75],[6.9,1.55],[7.6,1.7],
[1.5,0.9],[2.2,0.8],[2.8,1.0],[3.3,0.75],[3.8,0.95],[4.3,0.8],[4.7,1.05],[5.2,0.85],[5.7,1.0],[6.2,0.75],[6.8,0.95],[7.4,0.8],
[0.9,0.3],[1.6,0.4],[2.3,0.35],[2.9,0.45],[3.5,0.3],[4.0,0.4],[4.5,0.3],[5.0,0.45],[5.5,0.35],[6.0,0.3],[6.6,0.4],[7.2,0.3],[7.8,0.35]
];
const ptgs2More = [
[2.4,6.95],[3.1,7.05],[3.9,6.9],[4.6,7.0],[5.6,7.0],[5.8,6.45],[6.8,6.35],[4.2,6.2],[3.3,6.2],[2.0,6.2],[5.05,6.1],[5.4,6.3],[6.3,6.2],[7.0,6.2],
[2.5,5.45],[3.0,5.4],[3.7,5.45],[4.0,5.25],[4.25,5.7],[4.5,5.4],[5.0,5.3],[5.3,5.5],[5.65,5.3],[6.0,5.5],[6.5,5.3],[6.9,5.4],
[2.3,4.6],[2.8,4.7],[3.2,4.5],[3.55,4.7],[3.85,4.55],[4.1,4.75],[4.4,4.6],[4.7,4.7],[5.0,4.6],[5.3,4.65],[5.7,4.55],[6.1,4.6],[6.4,4.7],[6.8,4.5],
[2.0,3.75],[2.6,3.8],[3.2,3.7],[3.7,3.8],[4.0,3.7],[4.6,3.8],[5.0,3.85],[5.4,3.7],[5.8,3.8],[6.3,3.75],[6.75,3.7],[7.2,3.8],
[1.5,2.95],[2.2,2.9],[2.8,2.95],[3.6,3.0],[4.5,2.9],[5.3,3.0],[6.2,2.9],[7.1,2.95],
[1.1,1.3],[2.0,1.35],[2.6,1.3],[3.4,1.3],[4.0,1.35],[4.5,1.25],[5.4,1.3],[6.0,1.35],[6.6,1.3],[7.2,1.25],
[1.2,0.15],[1.9,0.12],[2.6,0.15],[3.2,0.12],[3.8,0.15],[4.2,0.12],[4.8,0.15],[5.3,0.12],[5.8,0.15],[6.3,0.12],[6.9,0.15],[7.5,0.12]
];
const ptgs2Zero = [0.16,0.35,0.9,1.15,1.35,1.55,1.75,1.95,2.15,2.3,2.5,2.65,2.85,3.0,3.2,3.35,3.55,3.7,3.9,4.05,4.25,4.4,4.6,4.75,4.95,5.1,5.3,5.45,5.65,5.8,6.0,6.15,6.35,6.5,6.7,6.85,7.05,7.25,7.45,7.7,8.0,8.3];
const ptgs2Smooth = [[0.22,2.67,1.25],[1.15,2.4,0.52],[2.73,2.15,0.37],[3.91,2.31,0.33],[5.1,2.4,0.35],[6.28,2.56,0.4],[7.47,2.81,0.55],[8.66,2.88,1.3],[10.0,2.81,2.27]];

const cd163Pts = [
[1.16,6.32],[1.16,2.52],[1.34,4.49],[1.81,1.3],[1.88,6.96],[1.65,6.52],[1.93,4.44],[2.11,3.82],[2.31,1.74],[3.09,7.75],[8.83,1.37],[6.93,1.37],[7.1,3.58],[6.98,5.78],[6.9,5.5],
[2.3,7.0],[2.7,7.2],[3.3,6.9],[3.6,7.15],[4.0,6.95],[4.4,7.2],[4.7,6.85],[5.0,7.1],[5.3,6.9],[5.6,7.25],[5.9,6.95],[2.9,6.8],
[2.0,6.4],[2.2,6.2],[2.5,6.5],[2.8,6.25],[3.1,6.45],[3.4,6.15],[3.7,6.4],[3.9,6.1],[4.15,6.5],[4.35,6.2],[4.55,6.45],[4.8,6.15],[5.0,6.4],[5.2,6.1],[5.45,6.5],[5.7,6.2],[5.95,6.4],[6.2,6.1],[6.5,6.3],[6.8,6.05],[4.25,6.7],
[2.1,5.5],[2.4,5.7],[2.65,5.4],[2.9,5.65],[3.15,5.35],[3.4,5.6],[3.6,5.3],[3.8,5.75],[4.0,5.45],[4.2,5.7],[4.4,5.35],[4.6,5.6],[4.8,5.4],[5.0,5.75],[5.2,5.45],[5.4,5.65],[5.6,5.35],[5.85,5.6],[6.1,5.4],[6.35,5.7],[4.9,5.2],[5.3,5.9],
[1.8,4.8],[2.3,4.6],[2.6,4.9],[2.85,4.65],[3.1,4.85],[3.35,4.55],[3.6,4.8],[3.85,4.5],[4.05,4.9],[4.3,4.6],[4.5,4.85],[4.7,4.55],[4.95,4.8],[5.15,4.5],[5.35,4.85],[5.6,4.6],[5.85,4.8],[6.1,4.55],[6.4,4.75],[6.65,4.5],[4.6,5.05],
[2.2,3.9],[2.5,4.1],[2.8,3.8],[3.3,4.0],[3.65,3.75],[3.95,4.05],[4.25,3.8],[4.55,4.1],[4.85,3.85],[5.1,4.15],[5.4,3.9],[5.7,4.1],[6.0,3.8],[6.3,4.05],[6.6,3.9],
[2.6,3.2],[3.2,3.0],[3.6,3.25],[4.0,2.95],[4.4,3.2],[4.75,3.0],[5.05,3.3],[5.35,3.0],[5.65,3.2],[6.0,2.95],[6.4,3.15],
[2.8,2.1],[3.5,2.3],[3.9,2.05],[4.3,2.35],[4.7,2.15],[5.0,2.4],[5.4,2.1],[5.75,2.3],[6.1,2.05],[6.6,2.2],[7.0,2.4],
[3.0,1.5],[3.6,1.3],[4.1,1.6],[4.5,1.35],[4.85,1.55],[5.2,1.3],[5.5,1.6],[5.85,1.4],[6.2,1.55],[6.5,1.3],
[3.4,0.8],[3.8,0.6],[4.2,0.85],[4.5,0.65],[4.8,0.9],[5.1,0.7],[5.4,0.85],[5.7,0.6],[6.0,0.8],[6.3,0.65],[6.7,0.75],
[2.0,0.3],[2.6,0.25],[3.2,0.35],[3.7,0.3],[4.1,0.4],[4.4,0.25],[4.7,0.35],[5.0,0.3],[5.3,0.4],[5.6,0.25],[5.9,0.35],[6.2,0.3],[6.5,0.4],[6.9,0.3]
];
const cd163More = [
[2.5,6.85],[3.1,7.0],[3.8,6.85],[4.2,7.0],[4.55,6.95],[4.9,6.8],[5.4,6.75],[5.75,6.75],[6.1,6.7],
[2.35,5.95],[2.7,6.0],[3.0,5.95],[3.25,5.9],[3.55,5.95],[3.8,5.95],[4.1,6.0],[4.5,5.95],[4.75,5.9],[5.1,6.0],[5.55,5.9],[5.85,6.0],[6.2,5.85],[6.55,5.9],
[2.5,5.2],[2.8,5.15],[3.0,5.2],[3.3,5.1],[3.5,5.15],[3.75,5.1],[4.1,5.2],[4.3,5.1],[4.5,5.2],[4.75,5.15],[5.1,5.05],[5.5,5.15],[5.75,5.1],[6.0,5.15],[6.25,5.05],[6.55,5.2],
[2.45,4.35],[2.75,4.3],[3.0,4.4],[3.2,4.25],[3.5,4.35],[3.75,4.25],[4.0,4.35],[4.4,4.3],[4.65,4.3],[4.9,4.35],[5.25,4.3],[5.5,4.3],[5.75,4.35],[6.0,4.25],[6.3,4.35],
[2.4,3.5],[2.9,3.45],[3.4,3.5],[3.8,3.55],[4.2,3.45],[4.6,3.55],[5.0,3.5],[5.3,3.6],[5.6,3.5],[5.9,3.55],[6.3,3.45],
[3.0,2.6],[3.4,2.65],[3.8,2.6],[4.2,2.7],[4.6,2.6],[4.95,2.7],[5.3,2.65],[5.7,2.7],[6.1,2.6],[6.5,2.6],
[3.2,1.85],[3.7,1.9],[4.0,1.8],[4.5,1.9],[4.9,1.85],[5.2,1.9],[5.6,1.85],[6.0,1.8],[6.4,1.9],
[3.1,1.05],[3.6,1.0],[4.0,1.1],[4.35,1.05],[4.65,1.1],[4.95,1.05],[5.25,1.1],[5.55,1.05],[5.9,1.1],[6.2,1.0],[6.6,1.05],
[2.3,0.12],[2.8,0.15],[3.4,0.12],[3.9,0.15],[4.25,0.12],[4.55,0.15],[4.85,0.12],[5.15,0.15],[5.45,0.12],[5.75,0.15],[6.05,0.12],[6.35,0.15],[6.7,0.12],[7.0,0.15]
];
const cd163Zero = [1.0,1.19,1.53,1.75,1.9,2.05,2.2,2.35,2.5,2.62,2.75,2.9,3.02,3.15,3.28,3.4,3.52,3.65,3.78,3.9,4.02,4.15,4.27,4.4,4.52,4.65,4.77,4.9,5.02,5.15,5.27,5.4,5.52,5.65,5.78,5.9,6.03,6.16,6.3,6.45,6.6,6.8,7.03,7.93,8.03,8.49];
const cd163Smooth = [[1.0,1.5,1.47],[1.73,2.28,0.55],[2.5,2.72,0.28],[3.12,2.84,0.25],[3.73,2.55,0.3],[4.35,2.35,0.37],[4.81,2.23,0.35],[5.28,2.4,0.37],[5.74,2.48,0.35],[6.2,2.23,0.4],[6.82,1.62,0.6],[7.59,0.64,1.27],[8.83,-0.83,2.69]];

const vsig4Pts = [
[1.22,1.37],[1.33,6.32],[1.49,4.49],[1.62,5.05],[2.1,6.89],[1.73,2.55],[3.27,7.75],[7.74,1.0],[7.6,0.9],[6.99,1.99],[6.8,1.0],[7.3,2.5],[6.9,5.2],[6.6,5.6],[6.7,4.5],
[2.6,7.0],[3.0,7.2],[3.5,6.9],[3.8,7.1],[4.1,6.85],[4.4,7.2],[4.7,6.95],[5.0,7.15],[5.3,6.85],[5.6,7.05],
[2.3,6.2],[2.7,6.45],[3.0,6.15],[3.3,6.4],[3.55,6.1],[3.8,6.5],[4.05,6.2],[4.3,6.45],[4.5,6.1],[4.75,6.35],[5.0,6.05],[5.2,6.4],[5.45,6.15],[5.7,6.45],[6.0,6.2],[6.3,6.35],[4.9,6.6],
[2.0,5.5],[2.5,5.65],[2.8,5.35],[3.1,5.6],[3.35,5.3],[3.6,5.7],[3.85,5.4],[4.05,5.65],[4.25,5.35],[4.45,5.6],[4.65,5.3],[4.85,5.75],[5.05,5.45],[5.25,5.7],[5.45,5.35],[5.65,5.6],[5.9,5.4],[6.15,5.65],[6.4,5.35],[4.55,5.85],
[2.4,4.8],[2.7,4.55],[3.0,4.85],[3.3,4.6],[3.55,4.9],[3.8,4.55],[4.0,4.8],[4.2,4.5],[4.4,4.85],[4.6,4.6],[4.8,4.9],[5.0,4.55],[5.2,4.8],[5.4,4.5],[5.6,4.85],[5.85,4.6],[6.1,4.8],[6.35,4.55],
[2.2,3.9],[2.9,4.1],[3.4,3.8],[3.8,4.05],[4.1,3.75],[4.4,4.1],[4.7,3.85],[5.0,4.15],[5.3,3.8],[5.6,4.05],[5.9,3.85],[6.2,4.1],[6.5,3.8],
[2.5,3.2],[3.3,3.0],[3.7,3.25],[4.1,2.95],[4.5,3.2],[4.9,3.0],[5.2,3.3],[5.55,3.0],[5.9,3.2],[6.3,2.95],
[3.0,2.1],[3.6,2.3],[4.0,2.05],[4.4,2.35],[4.8,2.1],[5.1,2.4],[5.5,2.15],[5.85,2.35],[6.2,2.1],[6.6,2.3],
[3.3,1.5],[3.9,1.3],[4.3,1.6],[4.7,1.35],[5.0,1.55],[5.35,1.3],[5.7,1.55],[6.05,1.35],[6.4,1.5],[7.0,1.4],
[3.6,0.7],[4.1,0.85],[4.5,0.6],[4.85,0.8],[5.2,0.65],[5.5,0.9],[5.8,0.7],[6.15,0.85],[6.5,0.6],[6.9,0.75],
[2.8,0.3],[3.5,0.25],[4.0,0.35],[4.35,0.3],[4.65,0.4],[4.95,0.25],[5.25,0.35],[5.55,0.3],[5.85,0.4],[6.2,0.25],[6.55,0.35],[7.2,0.3]
];
const vsig4More = [
[2.8,6.75],[3.25,6.8],[3.65,6.75],[4.0,6.6],[4.25,6.8],[4.55,6.65],[4.8,6.75],[5.15,6.7],[5.45,6.6],[5.8,6.7],[6.1,6.65],
[2.55,5.95],[2.9,5.95],[3.2,5.9],[3.45,6.0],[3.7,5.9],[3.95,6.0],[4.2,5.9],[4.4,5.95],[4.7,5.95],[5.1,5.9],[5.35,5.95],[5.6,5.85],[5.85,5.95],[6.1,5.9],[6.45,6.0],
[2.3,5.15],[2.6,5.2],[2.9,5.1],[3.2,5.2],[3.45,5.1],[3.7,5.2],[3.95,5.1],[4.15,5.15],[4.35,5.05],[4.55,5.2],[4.75,5.1],[4.95,5.2],[5.15,5.1],[5.35,5.15],[5.55,5.1],[5.75,5.2],[6.0,5.1],[6.25,5.15],
[2.6,4.3],[3.1,4.35],[3.5,4.3],[3.9,4.35],[4.3,4.3],[4.5,4.4],[4.75,4.3],[5.1,4.35],[5.35,4.3],[5.7,4.4],[5.95,4.3],[6.25,4.35],
[3.0,3.5],[3.5,3.5],[3.9,3.55],[4.3,3.5],[4.6,3.55],[4.85,3.45],[5.1,3.6],[5.45,3.5],[5.75,3.55],[6.1,3.5],[6.4,3.45],
[3.4,2.65],[3.8,2.7],[4.2,2.6],[4.6,2.7],[5.0,2.65],[5.4,2.7],[5.7,2.6],[6.05,2.7],[6.45,2.65],
[3.6,1.85],[4.1,1.8],[4.55,1.9],[4.9,1.8],[5.3,1.9],[5.65,1.85],[6.0,1.8],[6.35,1.9],[6.8,1.8],
[3.3,1.0],[3.9,1.05],[4.35,1.0],[4.7,1.1],[5.05,1.0],[5.4,1.05],[5.75,1.0],[6.1,1.1],[6.45,1.05],[6.75,1.0],
[3.2,0.12],[3.75,0.15],[4.2,0.12],[4.5,0.15],[4.8,0.12],[5.1,0.15],[5.4,0.12],[5.7,0.15],[6.0,0.12],[6.35,0.15],[6.7,0.12],[7.0,0.15]
];
const vsig4Zero = [0.89,1.2,1.45,1.65,1.9,2.1,2.4,2.6,2.8,2.95,3.1,3.25,3.4,3.55,3.7,3.85,4.0,4.12,4.25,4.38,4.5,4.62,4.75,4.88,5.0,5.12,5.25,5.38,5.5,5.63,5.76,5.9,6.03,6.16,6.3,6.45,6.6,6.75,6.9,7.05,7.2,7.4,7.87,8.03,8.27,8.99];
const vsig4Smooth = [[0.89,1.37,1.2],[1.54,2.23,0.74],[2.5,2.89,0.32],[3.14,2.97,0.28],[3.78,2.89,0.27],[4.42,2.57,0.3],[5.06,2.23,0.37],[5.7,2.28,0.37],[6.35,2.11,0.37],[7.31,1.5,0.4],[8.27,0.27,1.4],[8.99,-1.13,2.85]];

const ms4a4aPts = [
[1.39,7.75],[1.51,6.52],[1.49,6.35],[1.68,5.34],[1.48,1.37],[1.76,4.41],[1.93,6.96],[2.07,4.36],[2.17,2.72],[2.71,1.91],[2.75,7.1],[7.25,1.37],[6.45,4.93],[6.24,3.58],[6.31,0.51],[5.6,2.89],
[3.1,6.9],[3.5,7.1],[3.9,6.95],[4.2,7.2],[4.5,6.9],[4.8,7.05],[5.1,6.85],[5.4,7.1],[5.7,6.9],[3.3,7.3],
[2.6,6.3],[2.9,6.1],[3.2,6.45],[3.45,6.2],[3.7,6.5],[3.95,6.15],[4.15,6.4],[4.35,6.1],[4.55,6.45],[4.75,6.2],[4.95,6.5],[5.15,6.15],[5.35,6.4],[5.55,6.1],[5.8,6.35],[6.05,6.15],[6.3,6.4],
[2.5,5.5],[2.8,5.7],[3.05,5.35],[3.3,5.6],[3.55,5.4],[3.75,5.75],[3.95,5.45],[4.15,5.7],[4.35,5.35],[4.55,5.6],[4.75,5.4],[4.95,5.7],[5.15,5.45],[5.35,5.65],[5.55,5.35],[5.75,5.6],[6.0,5.4],[6.25,5.65],[4.45,5.9],
[2.3,4.7],[2.7,4.9],[3.0,4.6],[3.25,4.85],[3.5,4.55],[3.75,4.8],[3.95,4.5],[4.15,4.85],[4.35,4.6],[4.55,4.9],[4.75,4.55],[4.95,4.8],[5.15,4.5],[5.35,4.85],[5.55,4.6],[5.8,4.8],[6.05,4.55],
[2.9,3.9],[3.4,4.1],[3.7,3.8],[4.0,4.05],[4.3,3.75],[4.6,4.1],[4.85,3.85],[5.1,4.1],[5.4,3.8],[5.7,4.0],[6.0,3.85],
[3.1,3.2],[3.8,3.0],[4.1,3.25],[4.45,2.95],[4.8,3.2],[5.1,3.0],[5.45,3.3],[5.8,3.05],[6.1,3.2],
[3.9,2.2],[4.3,2.4],[4.65,2.1],[5.0,2.35],[5.3,2.05],[5.65,2.3],[5.95,2.1],[6.3,2.25],
[3.6,1.4],[4.15,1.55],[4.5,1.3],[4.85,1.6],[5.2,1.35],[5.5,1.55],[5.85,1.3],[6.15,1.5],[6.5,1.35],
[3.3,0.7],[3.8,0.6],[4.2,0.85],[4.55,0.65],[4.9,0.8],[5.25,0.6],[5.6,0.85],[5.9,0.7],[6.2,0.8],[6.6,0.65],
[2.1,0.3],[2.9,0.25],[3.5,0.35],[4.0,0.3],[4.35,0.4],[4.7,0.25],[5.05,0.35],[5.4,0.3],[5.75,0.4],[6.05,0.25],[6.4,0.35],[6.9,0.3]
];
const ms4a4aMore = [
[3.7,6.8],[4.05,6.75],[4.35,6.85],[4.65,6.7],[4.95,6.85],[5.25,6.7],[5.55,6.8],[5.9,6.7],[6.1,6.8],
[2.75,5.95],[3.1,5.9],[3.35,5.95],[3.6,5.95],[3.85,5.85],[4.05,5.95],[4.25,5.9],[4.6,5.95],[4.85,5.95],[5.05,5.9],[5.25,5.95],[5.45,5.9],[5.65,5.95],[5.9,5.85],[6.15,5.9],
[2.6,5.15],[2.95,5.1],[3.2,5.2],[3.45,5.1],[3.65,5.2],[3.85,5.1],[4.05,5.2],[4.25,5.1],[4.45,5.2],[4.65,5.1],[4.85,5.2],[5.05,5.1],[5.25,5.2],[5.45,5.1],[5.65,5.2],[5.9,5.1],[6.15,5.2],
[2.7,4.3],[3.2,4.3],[3.55,4.35],[3.85,4.25],[4.1,4.35],[4.45,4.3],[4.7,4.35],[5.0,4.3],[5.25,4.35],[5.5,4.25],[5.75,4.35],[6.0,4.3],
[3.2,3.5],[3.6,3.55],[3.95,3.5],[4.2,3.6],[4.5,3.5],[4.75,3.55],[5.0,3.5],[5.3,3.6],[5.6,3.5],[5.9,3.55],
[3.5,2.65],[3.95,2.7],[4.35,2.65],[4.7,2.7],[5.0,2.65],[5.3,2.7],[5.6,2.6],[5.95,2.7],
[3.8,1.85],[4.2,1.9],[4.55,1.8],[4.9,1.9],[5.25,1.8],[5.55,1.9],[5.9,1.8],[6.25,1.85],
[3.5,1.05],[3.95,1.0],[4.35,1.1],[4.7,1.0],[5.05,1.1],[5.4,1.0],[5.75,1.1],[6.05,1.0],[6.4,1.05],
[2.5,0.12],[3.2,0.15],[3.75,0.12],[4.2,0.15],[4.5,0.12],[4.85,0.15],[5.2,0.12],[5.55,0.15],[5.9,0.12],[6.2,0.15],[6.55,0.12]
];
const ms4a4aZero = [0.83,1.01,1.34,1.95,2.1,2.3,2.5,2.65,2.8,2.95,3.1,3.25,3.4,3.55,3.7,3.85,4.0,4.15,4.3,4.45,4.6,4.75,4.9,5.05,5.2,5.35,5.5,5.65,5.8,5.95,6.1,6.25,6.4,6.52,6.66,6.8,7.05,8.0];
const ms4a4aSmooth = [[0.83,1.5,1.85],[1.44,2.35,0.82],[2.14,2.84,0.37],[2.71,2.97,0.26],[3.27,2.72,0.27],[3.84,2.35,0.3],[4.26,2.23,0.3],[4.68,2.4,0.27],[5.25,2.4,0.33],[5.95,1.86,0.56],[6.8,0.88,1.3],[8.0,-0.96,3.2]];

// tick labels
const yTicksAB = [-4, 0, 4, 8];
const yTicksCD = [-2.5, 0, 2.5, 5, 7.5];
const xTicksCD68 = [5, 7, 9];
const xTicksCSF1R = [2, 4, 6, 8];
const xTicksIL10 = [0, 1, 2, 3];
const xTicksCCL2 = [2.5, 5, 7.5, 10];
const xTicksNOS2 = [0, 2, 4, 6];
const xTicksIRF5 = [2, 4, 6];
const xTicksPTGS2 = [0, 2.5, 5, 7.5, 10];
const xTicksCD163 = [2.5, 5, 7.5];
const xTicksVSIG4 = [2.5, 5, 7.5];
const xTicksMS4A4A = [2, 4, 6, 8];

// ---------------- LAYOUT ----------------
const FONT = "'Liberation Sans', Arial, Helvetica, sans-serif";
const SERIF = "'Liberation Serif', 'Times New Roman', serif";
const f1 = d3.format(".1f");
const fi = d3.format("d");

const panels = [
 {letter:"A", lpos:[141.5,36.7], title:"Monocyte", tpos:[339,37], stripTop:43.3, top:60.7, bottom:235, ystrip:[143.3,160.8], xTitle:[349,259.7], ydom:[-4.19,8.31], yTicks:yTicksAB, yFmt:fi,
  subs:[
   {name:"CD68", box:[162.3,340.7], xdom:[3.11,10.79], xt:xTicksCD68, xf:fi, pts:cd68Pts.concat(cd68More), zero:cd68Zero, sm:cd68Smooth, cor:"-0.111", p:"1.39e-02"},
   {name:"CSF1R", box:[347.3,525.7], xdom:[0.716,8.51], xt:xTicksCSF1R, xf:fi, pts:csf1rPts.concat(csf1rMore), zero:csf1rZero, sm:csf1rSmooth, cor:"-0.215", p:"1.50e-06"}
  ]},
 {letter:"B", lpos:[683.3,37.7], title:"TAM", tpos:[990,36.9], stripTop:44.3, top:63.3, bottom:243.3, ystrip:[683.3,699.3], xTitle:[990.5,270.7], ydom:[-4.21,8.31], yTicks:yTicksAB, yFmt:fi,
  subs:[
   {name:"CD68", box:[700.7,887.3], xdom:[3.10,10.82], xt:xTicksCD68, xf:fi, pts:cd68Pts.concat(cd68More), zero:cd68Zero, sm:cd68Smooth, cor:"-0.111", p:"1.39e-02"},
   {name:"IL10", box:[893.3,1080.7], xdom:[-0.194,3.86], xt:xTicksIL10, xf:fi, pts:il10Pts.concat(il10More), zero:il10Zero, sm:il10Smooth, cor:"-0.068", p:"1.30e-01"},
   {name:"CCL2", box:[1086.7,1274], xdom:[1.18,10.53], xt:xTicksCCL2, xf:f1, pts:ccl2Pts.concat(ccl2More), zero:ccl2Zero, sm:ccl2Smooth, cor:"-0.092", p:"4.08e-02"}
  ]},
 {letter:"C", lpos:[59.3,323], title:"M1 Macrophage", tpos:[339,321.5], stripTop:331.7, top:349.3, bottom:525, ystrip:[52.7,68], xTitle:[352,550], ydom:[-2.75,8.21], yTicks:yTicksCD, yFmt:f1,
  subs:[
   {name:"NOS2", box:[69.3,251.7], xdom:[-0.29,6.08], xt:xTicksNOS2, xf:fi, pts:nos2Pts.concat(nos2More), zero:nos2Zero, sm:nos2Smooth, cor:"0.114", p:"1.11e-02"},
   {name:"IRF5", box:[258.3,440], xdom:[0.42,6.56], xt:xTicksIRF5, xf:fi, pts:irf5Pts.concat(irf5More), zero:irf5Zero, sm:irf5Smooth, cor:"-0.029", p:"5.16e-01"},
   {name:"PTGS2", box:[446,628.3], xdom:[-0.28,10.53], xt:xTicksPTGS2, xf:f1, pts:ptgs2Pts.concat(ptgs2More), zero:ptgs2Zero, sm:ptgs2Smooth, cor:"0.058", p:"1.96e-01"}
  ]},
 {letter:"D", lpos:[682.7,323.3], title:"M2 Macrophage", tpos:[990,321.5], stripTop:326.7, top:344.3, bottom:525, ystrip:[683.3,701.2], xTitle:[992.5,553], ydom:[-4.87,8.41], yTicks:yTicksCD, yFmt:f1,
  subs:[
   {name:"CD163", box:[702.7,888.3], xdom:[0.61,9.23], xt:xTicksCD163, xf:f1, pts:cd163Pts.concat(cd163More), zero:cd163Zero, sm:cd163Smooth, cor:"-0.114", p:"1.15e-02"},
   {name:"VSIG4", box:[895,1080.7], xdom:[0.495,9.42], xt:xTicksVSIG4, xf:f1, pts:vsig4Pts.concat(vsig4More), zero:vsig4Zero, sm:vsig4Smooth, cor:"-0.158", p:"4.12e-04"},
   {name:"MS4A4A", box:[1087.3,1273.3], xdom:[0.47,8.35], xt:xTicksMS4A4A, xf:fi, pts:ms4a4aPts.concat(ms4a4aMore), zero:ms4a4aZero, sm:ms4a4aSmooth, cor:"-0.143", p:"1.51e-03"}
  ]}
];

const svg = d3.select("#fig");
svg.append("rect").attr("width",1290).attr("height",646).attr("fill","#fff");
svg.append("path").attr("d","M9.5,646 L9.5,21 Q9.5,10 20.5,10 L1277,10 Q1288,10 1288.5,21")
  .attr("fill","none").attr("stroke","#3a3a3a").attr("stroke-width",1);

let clipId = 0;
function minorTicks(ticks, dom){
  const step = ticks.length>1 ? ticks[1]-ticks[0] : 1;
  const out=[];
  for(let v=ticks[0]-step/2; v<=dom[1]; v+=step){ if(v>=dom[0]) out.push(v); }
  return out;
}

panels.forEach(P=>{
  const g = svg.append("g");
  g.append("text").attr("x",P.lpos[0]).attr("y",P.lpos[1]).text(P.letter)
    .attr("font-family",SERIF).attr("font-weight","bold").attr("font-size",14.5).attr("fill","#111");
  g.append("text").attr("x",P.tpos[0]).attr("y",P.tpos[1]).attr("text-anchor","middle").text(P.title)
    .attr("font-family",SERIF).attr("font-weight","bold").attr("font-size",14).attr("fill","#111");
  const y = d3.scaleLinear().domain(P.ydom).range([P.bottom,P.top]);
  g.append("rect").attr("x",P.ystrip[0]).attr("y",P.top).attr("width",P.ystrip[1]-P.ystrip[0]).attr("height",P.bottom-P.top)
    .attr("fill","#d9d9d9").attr("stroke","#333").attr("stroke-width",0.8);
  const cx = (P.ystrip[0]+P.ystrip[1])/2, cy=(P.top+P.bottom)/2;
  g.append("text").attr("transform",`translate(${cx+3.7},${cy}) rotate(-90)`).attr("text-anchor","middle")
    .attr("font-family",FONT).attr("font-size",10.4).attr("fill","#1a1a1a").text("CXORF61");
  const ya = g.append("g").attr("transform",`translate(${P.ystrip[0]},0)`)
    .call(d3.axisLeft(y).tickValues(P.yTicks).tickFormat(P.yFmt).tickSize(3).tickPadding(2));
  ya.select(".domain").remove();
  ya.selectAll("line").attr("stroke","#333").attr("stroke-width",0.8);
  ya.selectAll("text").attr("font-family",FONT).attr("font-size",9.6).attr("fill","#4d4d4d");
  g.append("text").attr("x",P.xTitle[0]).attr("y",P.xTitle[1]).attr("text-anchor","middle")
    .attr("font-family",FONT).attr("font-size",11.6).attr("fill","#111").text("Expression Level (log2 TPM)");

  P.subs.forEach(S=>{
    const [x0,x1] = S.box;
    const x = d3.scaleLinear().domain(S.xdom).range([x0,x1]);
    const sg = g.append("g");
    const id = "clip"+(clipId++);
    sg.append("clipPath").attr("id",id).append("rect").attr("x",x0).attr("y",P.top).attr("width",x1-x0).attr("height",P.bottom-P.top);
    sg.append("rect").attr("x",x0).attr("y",P.top).attr("width",x1-x0).attr("height",P.bottom-P.top).attr("fill","#fff");
    const grid = sg.append("g").attr("clip-path",`url(#${id})`);
    const mx = minorTicks(S.xt, S.xdom), my = minorTicks(P.yTicks, P.ydom);
    grid.selectAll(".mnx").data(mx).join("line").attr("x1",d=>x(d)).attr("x2",d=>x(d)).attr("y1",P.top).attr("y2",P.bottom).attr("stroke","#f0f0f0").attr("stroke-width",0.6);
    grid.selectAll(".mny").data(my).join("line").attr("y1",d=>y(d)).attr("y2",d=>y(d)).attr("x1",x0).attr("x2",x1).attr("stroke","#f0f0f0").attr("stroke-width",0.6);
    grid.selectAll(".mjx").data(S.xt).join("line").attr("x1",d=>x(d)).attr("x2",d=>x(d)).attr("y1",P.top).attr("y2",P.bottom).attr("stroke","#e8e8e8").attr("stroke-width",1);
    grid.selectAll(".mjy").data(P.yTicks).join("line").attr("y1",d=>y(d)).attr("y2",d=>y(d)).attr("x1",x0).attr("x2",x1).attr("stroke","#e8e8e8").attr("stroke-width",1);
    const all = S.pts.concat(S.zero.map(v=>[v,0]));
    const pg = sg.append("g").attr("clip-path",`url(#${id})`);
    pg.selectAll("circle").data(all).join("circle").attr("cx",d=>x(d[0])).attr("cy",d=>y(d[1])).attr("r",2.2).attr("fill","#000");
    const area = d3.area().x(d=>x(d[0])).y0(d=>y(d[1]-d[2])).y1(d=>y(d[1]+d[2])).curve(d3.curveCatmullRom);
    const line = d3.line().x(d=>x(d[0])).y(d=>y(d[1])).curve(d3.curveCatmullRom);
    pg.append("path").attr("d",area(S.sm)).attr("fill","#999").attr("fill-opacity",0.4);
    pg.append("path").attr("d",line(S.sm)).attr("fill","none").attr("stroke","#3366ff").attr("stroke-width",1.7);
    sg.append("rect").attr("x",x0).attr("y",P.top).attr("width",x1-x0).attr("height",P.bottom-P.top).attr("fill","none").attr("stroke","#333").attr("stroke-width",0.8);
    sg.append("rect").attr("x",x0).attr("y",P.stripTop).attr("width",x1-x0).attr("height",P.top-P.stripTop).attr("fill","#d9d9d9").attr("stroke","#333").attr("stroke-width",0.8);
    sg.append("text").attr("x",(x0+x1)/2).attr("y",(P.stripTop+P.top)/2+3.7).attr("text-anchor","middle")
      .attr("font-family",FONT).attr("font-size",10.4).attr("fill","#1a1a1a").text(S.name);
    const xa = sg.append("g").attr("transform",`translate(0,${P.bottom})`)
      .call(d3.axisBottom(x).tickValues(S.xt).tickFormat(S.xf).tickSize(3).tickPadding(2));
    xa.select(".domain").remove();
    xa.selectAll("line").attr("stroke","#333").attr("stroke-width",0.8);
    xa.selectAll("text").attr("font-family",FONT).attr("font-size",9.6).attr("fill","#4d4d4d");
    sg.append("text").attr("x",x1-8).attr("y",P.top+14.8).attr("text-anchor","end")
      .attr("font-family",FONT).attr("font-size",10).attr("fill","#ff2020").text("partial.cor = "+S.cor);
    sg.append("text").attr("x",x1-5).attr("y",P.top+28.8).attr("text-anchor","end")
      .attr("font-family",FONT).attr("font-size",10).attr("fill","#ff2020").text("p = "+S.p);
  });
});

// ---------------- CAPTION ----------------
const captionLines = [
 [["Fig. 4",true],["\u00a0\u00a0Association of KK-LC-1 expression with immune marker sets in LUAD based on TIMER database. The correlation between KK-LC-1 expression",false]],
 [["and the gene markers of ",false],["A",true],[" Monocyte (CD68 and CSF1R); ",false],["B",true],[" TAM (CD68, IL10 and CCL2); ",false],["C",true],[" M1 Macrophage (NOS2, IRF5 and PTGS2); ",false],["D",true],[" M2",false]],
 [["Macrophage (CD163,VSIG4 and MS4A4A)",false]]
];
const captionWidths = [1249, 1221, 354];
const captionBase = [584, 611.5, 639];
captionLines.forEach((ln,i)=>{
  const t = svg.append("text").attr("font-family","'Open Sans','Noto Sans',sans-serif").attr("font-size",19).attr("fill","#231f20")
    .style("white-space","pre");
  ln.forEach(([s,b])=>t.append("tspan").attr("font-weight",b?"bold":"normal").text(s));
  const w = t.node().getComputedTextLength();
  t.attr("transform",`translate(16,${captionBase[i]}) scale(${captionWidths[i]/w},1)`);
});
</script>
</body></html>
